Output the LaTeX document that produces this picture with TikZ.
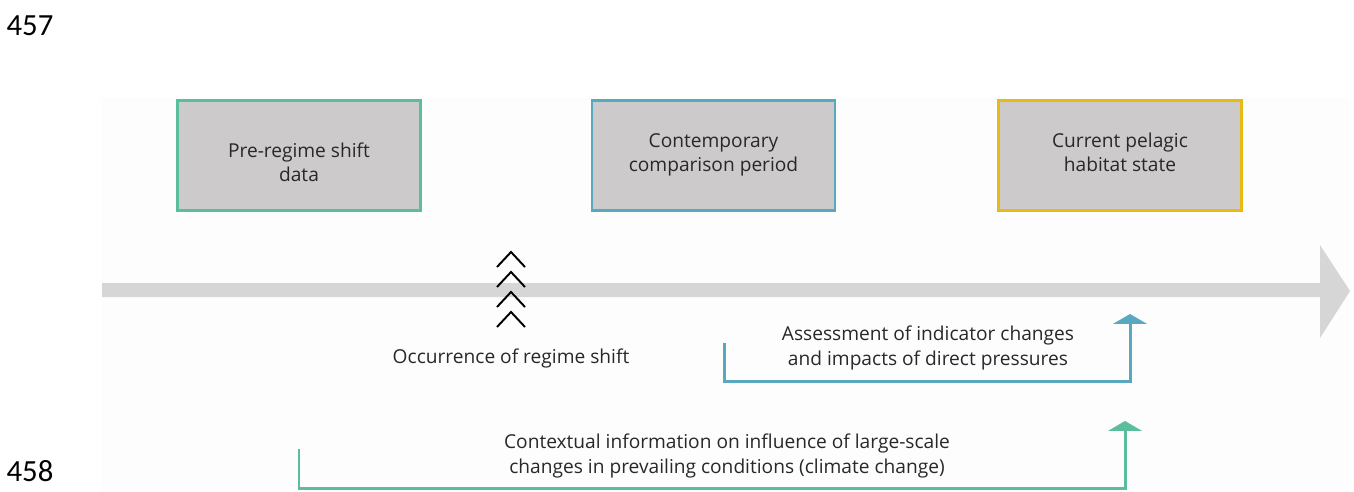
\documentclass[tikz,border=0pt]{standalone}
\usepackage{fontspec}
\setmainfont{Open Sans}
\newfontfamily\numfont{Carlito}
\usepackage{tikz}
\usetikzlibrary{arrows.meta}

\definecolor{boxgrey}{RGB}{204,202,202}
\definecolor{axisgrey}{RGB}{214,214,214}
\definecolor{pregreen}{RGB}{91,190,155}
\definecolor{conblue}{RGB}{88,168,190}
\definecolor{curyellow}{RGB}{232,186,22}
\definecolor{textgrey}{RGB}{40,40,40}

\tikzset{
	period/.style={draw, line width=1.6pt, fill=boxgrey, minimum width=4.86cm, minimum height=2.2cm},
	caption/.style={align=center, text=textgrey, font=\fontsize{10.9}{13.9}\selectfont},
	lineno/.style={font=\numfont\fontsize{17.5}{20}\selectfont},
	link/.style={line width=1.7pt, -{Triangle[length=5.6pt,width=19pt]}},
}

\begin{document}
\begin{tikzpicture}[x=0.02cm,y=-0.02cm]
\useasboundingbox (0,0) rectangle (1354,491);
%\clip(0,0) rectangle (1354,491);
	\fill [color=black!0.7] (101,98) rectangle (1349,491);
	\node[lineno] (n457) at (30,26) {457};
	\node[lineno] (n458) at (30,471) {458};
	% time axis
	\fill [color=axisgrey] (102,283) -- (1320,283) -- (1320,245) -- (1350,291) -- (1320,338) -- (1320,297) -- (102,297) -- cycle;
	% the three periods
	\node[period, draw=pregreen] (pre) at (299,155.5) {};
	\node[period, draw=conblue] (con) at (713.5,155.5) {};
	\node[period, draw=curyellow] (cur) at (1120,155.5) {};
	% base = last line
	\node[caption, anchor=base] (pretext) at (299,181.5) {Pre-regime shift\\data};
	\node[caption, anchor=base] (context) at (713.5,171.5) {Contemporary\\comparison period};
	\node[caption, anchor=base] (curtext) at (1120,171.5) {Current pelagic\\habitat state};
	% regime shift marks
	\foreach \y in {252,272,292,312}
		\draw [line width=1.1pt] (497,\y+15) -- (511,\y) -- (525,\y+15);
	\node[caption] (shift) at (511,358) {Occurrence of regime shift};
	% assessment link
	\coordinate (a1) at (724,343);
	\coordinate (a2) at (1130,314);
	\draw [link, color=conblue] (a1) |- (1130,381) -- (a2);
	\node[caption] (assess) at (928,348) {Assessment of indicator changes\\and impacts of direct pressures};
	% background link
	\coordinate (b1) at (299,449);
	\coordinate (b2) at (1125,421);
	\draw [link, color=pregreen] (b1) |- (1125,488) -- (b2);
	\node[caption] (backinfo) at (727,456) {Contextual information on influence of large-scale\\changes in prevailing conditions (climate change)};
\end{tikzpicture}
\end{document}
